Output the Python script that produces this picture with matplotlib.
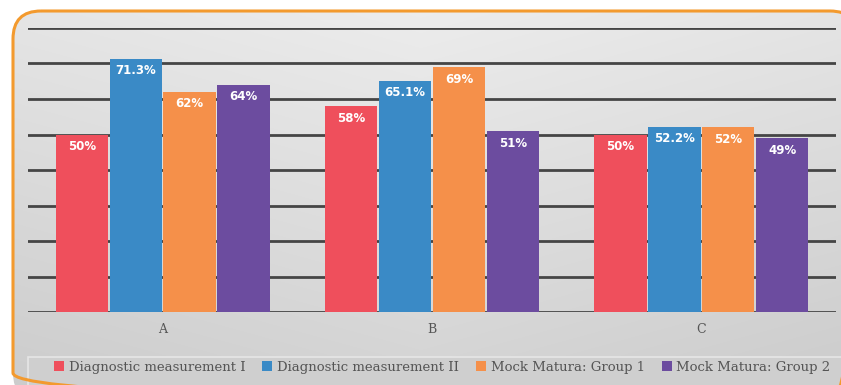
import numpy as np
import matplotlib.pyplot as plt
from matplotlib.patches import FancyBboxPatch, Rectangle

# Data
groups = ["A", "B", "C"]
series = ["Diagnostic measurement I", "Diagnostic measurement II",
          "Mock Matura: Group 1", "Mock Matura: Group 2"]
diag_1 = [50, 58, 50]
diag_2 = [71.3, 65.1, 52.2]
mock_1 = [62, 69, 52]
mock_2 = [64, 51, 49]
labels_diag_1 = ["50%", "58%", "50%"]
labels_diag_2 = ["71.3%", "65.1%", "52.2%"]
labels_mock_1 = ["62%", "69%", "52%"]
labels_mock_2 = ["64%", "51%", "49%"]

values = [diag_1, diag_2, mock_1, mock_2]
value_labels = [labels_diag_1, labels_diag_2, labels_mock_1, labels_mock_2]
colors = ["#ef4f5c", "#3a8ac6", "#f5904a", "#6c4c9f"]

W, H = 841, 385
fig = plt.figure(figsize=(W / 100, H / 100), dpi=100)
fig.patch.set_facecolor("white")

# gray gradient panel with rounded orange border
bg = fig.add_axes([0, 0, 1, 1])
bg.set_xlim(0, W)
bg.set_ylim(H, 0)
bg.axis("off")
yy, xx = np.mgrid[0:H, 0:W]
shade = 0.93 - 0.10 * (yy / H) - 0.03 * np.abs(xx - W / 2) / (W / 2)
grad = np.dstack([shade, shade, shade])
panel = FancyBboxPatch((13, 11), 845, 390, boxstyle="round,pad=0,rounding_size=28",
                       facecolor="none", edgecolor="#f39a2e", linewidth=2.2, zorder=3)
bg.add_patch(panel)
img = bg.imshow(grad, extent=(0, W, H, 0), zorder=1, aspect="auto")
img.set_clip_path(panel)

# legend strip
bg.add_patch(Rectangle((28, 357), 820, 40, facecolor="#cfcfcf",
                       edgecolor="#e6e6e6", linewidth=1.2, zorder=2))

ax = fig.add_axes([28 / W, (H - 312) / H, (836 - 28) / W, (312 - 28) / H])
ax.set_facecolor("none")
ax.set_xlim(-0.5, 2.5)
ax.set_ylim(0, 80)
for y in range(0, 81, 10):
    ax.axhline(y, color="#454545", linewidth=2, zorder=1)

x = np.arange(len(groups))
width = 0.2
for i, (vals, labs, col) in enumerate(zip(values, value_labels, colors)):
    pos = x + (i - 1.5) * width
    bars = ax.bar(pos, vals, width * 0.97, color=col, label=series[i], zorder=2)
    for b, lab in zip(bars, labs):
        ax.annotate(lab, (b.get_x() + b.get_width() / 2, b.get_height()),
                    xytext=(0, -4), textcoords="offset points",
                    ha="center", va="top", color="white", fontsize=8.5,
                    fontweight="bold", zorder=3)

for s in ax.spines.values():
    s.set_visible(False)
ax.set_yticks([])
ax.set_xticks(x)
ax.set_xticklabels(groups, family="DejaVu Serif", fontsize=9, color="#555555")
ax.tick_params(axis="x", length=0, pad=8)

leg = fig.legend(loc="center", bbox_to_anchor=(0.526, (H - 367) / H), ncol=4,
                 frameon=False, handlelength=0.75, handleheight=0.75,
                 handletextpad=0.35, columnspacing=1.3,
                 prop={"family": "DejaVu Serif", "size": 9.5})
for t in leg.get_texts():
    t.set_color("#555555")

fig.savefig("out.png", dpi=100)
